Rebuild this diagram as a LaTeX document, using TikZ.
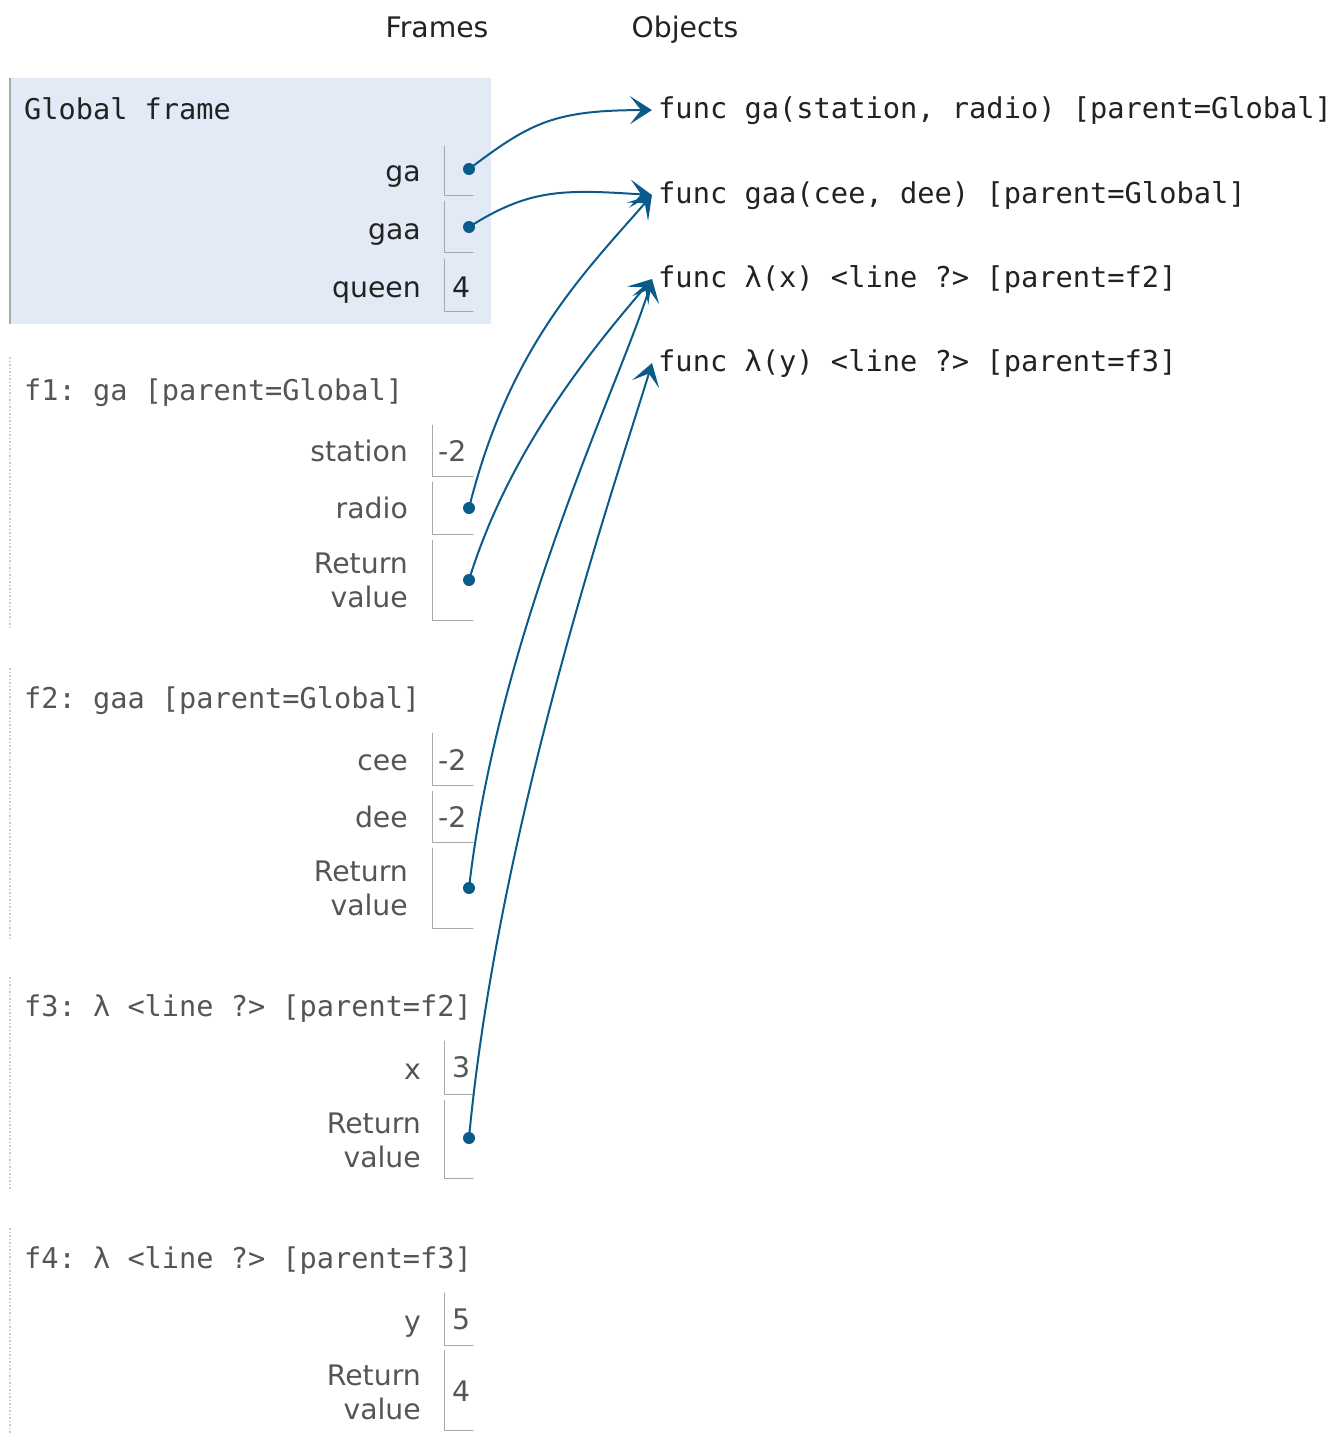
\documentclass[tikz,border=0pt]{standalone}
\usepackage{fontspec}
\setmainfont{DejaVu Sans}
\setmonofont{DejaVu Sans Mono}
\usetikzlibrary{arrows.meta}
\definecolor{ptrblue}{HTML}{0A5A8A}
\definecolor{globfill}{HTML}{E2EAF5}
\definecolor{framegray}{HTML}{555555}
\definecolor{boxgray}{HTML}{A8A8A8}
\definecolor{inkblack}{HTML}{222222}

\begin{document}
\begin{tikzpicture}[x=1pt,y=-1pt,line join=round,line cap=round,
	font=\fontsize{28.3}{34}\selectfont,text=inkblack,
	lab/.style={anchor=base east,inner sep=0pt},
	labrv/.style={anchor=east,inner sep=0pt,align=right},
	val/.style={anchor=base west,inner sep=0pt},
	ttl/.style={anchor=base west,inner sep=0pt,font=\fontsize{28.6}{34}\selectfont\ttfamily},
	obj/.style={anchor=base west,inner xsep=6pt,inner ysep=0pt,font=\fontsize{28.7}{34}\selectfont\ttfamily},
	dot/.style={circle,fill=ptrblue,inner sep=0pt,minimum size=12pt},
	vbox/.style={draw=boxgray,line width=1pt},
	ptr/.style={draw=ptrblue,line width=2pt,-{Stealth[length=22pt,width=28pt,inset=11pt]}}]
	\useasboundingbox (0,0) rectangle (1342,1435);
	% headers
	\node[anchor=base] (frames) at (437,37) {Frames};
	\node[anchor=base] (objects) at (685,37) {Objects};
	% global frame
	\fill[globfill] (10,78) rectangle (491,324);
	\draw[boxgray,line width=2pt,line cap=butt] (10,78)--(10,324);
	\node[ttl] (gtitle) at (24,119) {Global frame};
	\node[lab] (lga) at (421,181) {ga};
	\node[lab] (lgaa) at (421,239) {gaa};
	\node[lab] (lqueen) at (421,297) {queen};
	\node[val] (vqueen) at (452,297) {4};
	\foreach \t/\b in {146/195,201/252,259/311}{
		\draw[vbox] (444,\t)--(444,\b)--(473,\b);}
	\node[dot] (dga) at (469,169) {};
	\node[dot] (dgaa) at (469,227) {};
	% other frames, left rule
	\foreach \a/\b in {357/630,668/940,977/1190,1228/1435}{
		\draw[boxgray!60,line width=1.5pt,dotted,line cap=butt] (10,\a)--(10,\b);}
	\begin{scope}[text=framegray]
	% f1
	\node[ttl] (f1title) at (24,400) {f1: ga [parent=Global]};
	\node[lab] (lstation) at (408,461) {station};
	\node[lab] (lradio) at (408,518) {radio};
	\node[labrv] (lret1) at (408,580) {Return\\value};
	\node[val] (vstation) at (438,461) {-2};
	\foreach \t/\b in {425/476,482/534,540/620}{
		\draw[vbox] (432,\t)--(432,\b)--(473,\b);}
	% f2
	\node[ttl] (f2title) at (24,708) {f2: gaa [parent=Global]};
	\node[lab] (lcee) at (408,770) {cee};
	\node[lab] (ldee) at (408,827) {dee};
	\node[labrv] (lret2) at (408,888) {Return\\value};
	\node[val] (vcee) at (438,770) {-2};
	\node[val] (vdee) at (438,827) {-2};
	\foreach \t/\b in {733/785,791/842,848/928}{
		\draw[vbox] (432,\t)--(432,\b)--(473,\b);}
	% f3
	\node[ttl] (f3title) at (24,1016) {f3: λ <line ?> [parent=f2]};
	\node[lab] (lx) at (421,1079) {x};
	\node[labrv] (lret3) at (421,1140) {Return\\value};
	\node[val] (vx) at (452,1077) {3};
	\foreach \t/\b in {1041/1094,1100/1178}{
		\draw[vbox] (444,\t)--(444,\b)--(473,\b);}
	% f4
	\node[ttl] (f4title) at (24,1268) {f4: λ <line ?> [parent=f3]};
	\node[lab] (ly) at (421,1331) {y};
	\node[labrv] (lret4) at (421,1392) {Return\\value};
	\node[val] (vy) at (452,1329) {5};
	\node[val,anchor=west] (vret4) at (452,1391) {4};
	\foreach \t/\b in {1293/1345,1350/1430}{
		\draw[vbox] (444,\t)--(444,\b)--(473,\b);}
	\end{scope}
	\node[dot] (dradio) at (469,508) {};
	\node[dot] (dret1) at (469,580) {};
	\node[dot] (dret2) at (469,888) {};
	\node[dot] (dret3) at (469,1138) {};
	% objects
	\node[obj] (fga) at (652,118) {func ga(station, radio) [parent=Global]};
	\node[obj] (fgaa) at (652,203) {func gaa(cee, dee) [parent=Global]};
	\node[obj] (flamx) at (652,287) {func λ(x) <line ?> [parent=f2]};
	\node[obj] (flamy) at (652,371) {func λ(y) <line ?> [parent=f3]};
	% pointers
	\draw[ptr] (dga.center) .. controls +(60,-45) and +(-100,0) .. (fga.west);
	\draw[ptr] (dgaa.center) .. controls +(60,-38) and +(-90,-6) .. (fgaa.west);
	\draw[ptr] (dradio.center) .. controls +(40,-160) and +(-70,80) .. (fgaa.west);
	\draw[ptr] (dret1.center) .. controls +(40,-130) and +(-60,70) .. (flamx.west);
	\draw[ptr] (dret2.center) .. controls +(30,-260) and +(-30,100) .. (flamx.west);
	\draw[ptr] (dret3.center) .. controls +(30,-320) and +(-30,100) .. (flamy.west);
\end{tikzpicture}
\end{document}
